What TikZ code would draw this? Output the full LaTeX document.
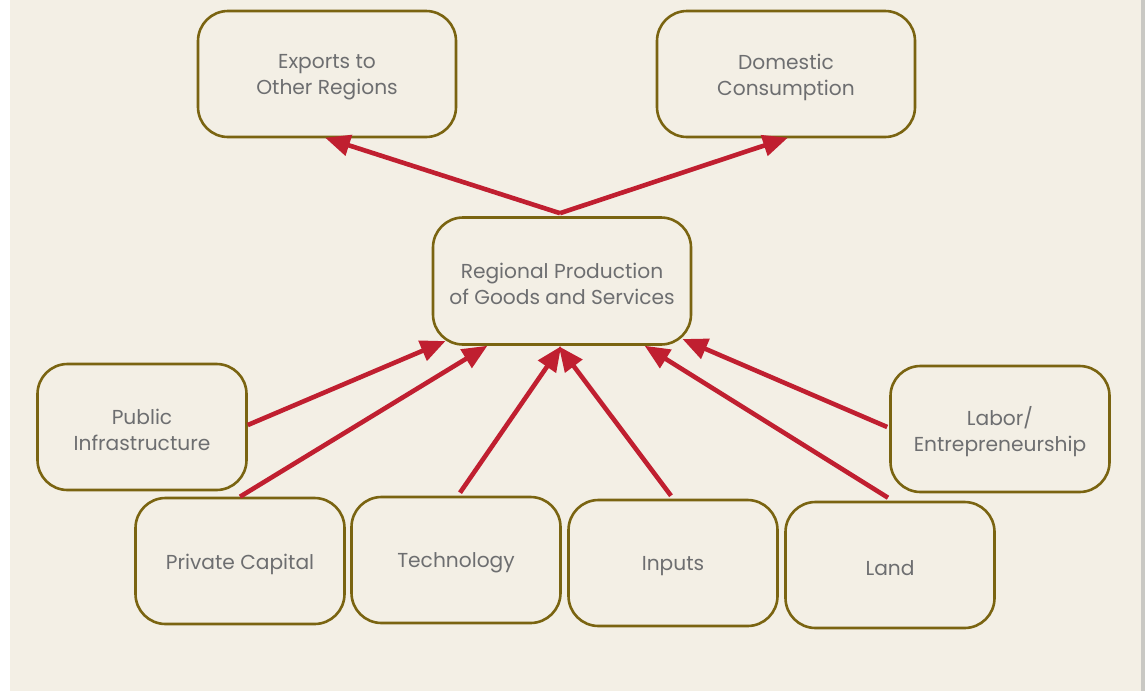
\documentclass[tikz,border=0pt]{standalone}
\usepackage{fontspec}
\setmainfont{Poppins}
\usetikzlibrary{arrows.meta,positioning,calc}
\definecolor{bg}{HTML}{F3EFE5}
\definecolor{boxline}{HTML}{7A6411}
\definecolor{arrowred}{HTML}{C01F30}
\definecolor{txt}{HTML}{6D6E70}
\definecolor{edge}{HTML}{C9C8C3}
\begin{document}
\begin{tikzpicture}[x=1pt,y=-1pt,
  box/.style={draw=boxline,line width=2.6pt,rounded corners=30pt,fill=bg,
    minimum height=126pt,inner sep=0pt},
  boxtext/.style={align=center,text=txt,inner sep=0pt,yshift=-3pt,
    font=\fontsize{20.2}{26}\selectfont},
  wbox/.style={box,minimum width=258pt},
  nbox/.style={box,minimum width=209pt},
  flow/.style={draw=arrowred,line width=4.6pt,
    -{Triangle[length=25pt,width=21pt]},shorten >=-2pt}]
\useasboundingbox (0,0) rectangle (1145,691);
\fill[white] (0,0) rectangle (10,691);
\fill[bg] (10,0) rectangle (1141,691);
\fill[edge] (1141,0) rectangle (1145,691);

\node[wbox,label={[boxtext]center:Exports to\\Other Regions}] (exp) at (327,74) {};
\node[wbox,label={[boxtext]center:Domestic\\Consumption}] (dom) at (786,74) {};
\node[wbox,minimum height=127pt,label={[boxtext]center:Regional Production\\of Goods and Services}] (reg) at (562,281) {};
\node[nbox,label={[boxtext]center:Public\\Infrastructure}] (pub) at (142,427) {};
\node[nbox,minimum width=219pt,label={[boxtext]center:Labor/\\Entrepreneurship}] (lab) at (1000,429) {};
\node[nbox,label={[boxtext]center:Private Capital}] (pc) at (240,561) {};
\node[nbox,label={[boxtext]center:Technology}] (tec) at (456,560) {};
\node[nbox,label={[boxtext]center:Inputs}] (inp) at (673,563) {};
\node[nbox,label={[boxtext]center:Land}] (lnd) at (890,565) {};

\coordinate (regtop) at ($(reg.north)+(-2,-3)$);
\coordinate (regbot) at ($(reg.south)+(-2,2)$);
\draw[flow] (regtop) -- (exp.south);
\draw[flow] (regtop) -- (dom.south);
\draw[flow] ($(pub.east)+(0,-2)$) -- ($(reg.south west)+(12,-4)$);
\draw[flow] (pc.north) -- ($(reg.south west)+(54,1)$);
\draw[flow] ($(tec.north)+(4,-3)$) -- (regbot);
\draw[flow] ($(inp.north)+(-2,-3)$) -- (regbot);
\draw[flow] ($(lnd.north)+(-2,-3)$) -- ($(reg.south east)+(-46,1)$);
\draw[flow] ($(lab.west)+(-2,-2)$) -- ($(reg.south east)+(-8,-6)$);
\end{tikzpicture}
\end{document}
